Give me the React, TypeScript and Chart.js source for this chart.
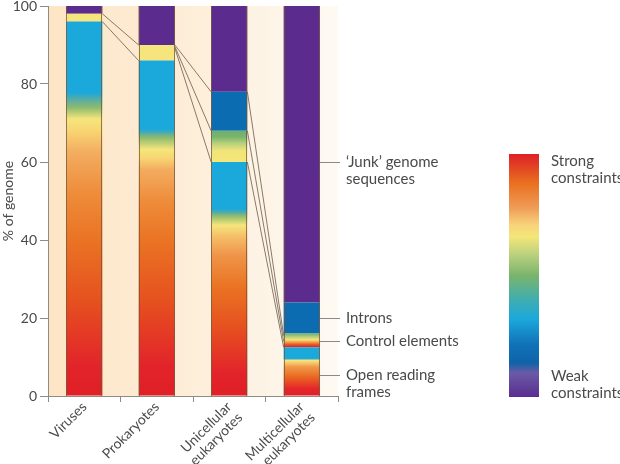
import React, { useEffect, useRef } from "react";
import { Chart, registerables } from "chart.js";

Chart.register(...registerables);

// ---------- data ----------
const categories = [["Viruses"], ["Prokaryotes"], ["Unicellular", "eukaryotes"], ["Multicellular", "eukaryotes"]];
const yTickValues = [0, 20, 40, 60, 80, 100];
const openReadingFrames = [96, 86, 60, 12.5];
const controlElements = [2, 4, 8, 3.5];
const introns = [0, 0, 10, 8];
const junkSequences = [2, 10, 22, 76];
// connector lines between neighbouring bars (value on left bar -> value on right bar)
const connectorFrom = [[98, 96], [90, 89.6, 89.2], [78, 68, 60]];
const connectorTo = [[90, 86], [78, 68, 60], [15.5, 14, 12.5]];
const annotationLabels = [["Open reading", "frames"], ["Control elements"], ["Introns"], ["\u2018Junk\u2019 genome", "sequences"]];
const annotationValues = [5.5, 14, 20, 60];
const legendTop = ["Strong", "constraints"];
const legendBottom = ["Weak", "constraints"];

// ---------- styles ----------
const FONT = "Lato, 'Open Sans', sans-serif";
const TEXT = "#4a4a4a";
const AXIS = "#8f8a85";
const RED = "#e01f27";
const CYAN = "#1ba9dc";
const YELLOW = "#f6e47c";
const BLUE = "#0b6cb2";
const PURPLE = "#5b2b8e";
type Stops = [number, string][];

const orfStops: Stops[] = [
  [[0, RED], [0.08, "#e2242a"], [0.26, "#e6521f"], [0.42, "#ea7424"], [0.54, "#ee8c3a"], [0.65, "#f3ac60"], [0.71, "#f8d672"], [0.74, "#f5e57c"], [0.77, "#8fbb6e"], [0.795, "#4fabab"], [0.81, CYAN], [1, CYAN]],
  [[0, RED], [0.09, "#e2242a"], [0.29, "#e6521f"], [0.465, "#ea7424"], [0.58, "#ee8c3a"], [0.675, "#f3ac60"], [0.71, "#f8d672"], [0.735, "#f5e57c"], [0.77, "#8fbb6e"], [0.785, "#4fabab"], [0.795, CYAN], [1, CYAN]],
  [[0, RED], [0.1, "#e2242a"], [0.3, "#e6521f"], [0.47, "#ea7424"], [0.6, "#ef9448"], [0.68, "#f5bd68"], [0.73, "#f5e57c"], [0.77, "#8fbb6e"], [0.785, "#4fabab"], [0.8, CYAN], [1, CYAN]],
  [[0, RED], [0.15, "#e3262a"], [0.4, "#ea6a22"], [0.6, "#f09a4a"], [0.69, "#f6cf70"], [0.73, "#f5e57c"], [0.77, CYAN], [1, CYAN]],
];
const controlStops: Stops[] = [
  [[0, YELLOW], [1, YELLOW]],
  [[0, YELLOW], [1, YELLOW]],
  [[0, "#f5e67c"], [0.35, "#f3e47a"], [0.6, "#b6d07d"], [0.8, "#7ab56b"], [1, "#6cae74"]],
  [[0, "#d9202a"], [0.2, "#e8562a"], [0.4, "#f4a84a"], [0.55, "#f6e27a"], [0.75, "#b7d07e"], [1, "#6fb06e"]],
];
const intronStops: Stops[] = [0, 1, 2, 3].map(() => [[0, BLUE], [1, BLUE]] as Stops);
const junkStops: Stops[] = [0, 1, 2, 3].map(() => [[0, PURPLE], [1, PURPLE]] as Stops);

const seriesValues = [openReadingFrames, controlElements, introns, junkSequences];
const seriesNames = ["Open reading frames", "Control elements", "Introns", "Junk genome sequences"];
const seriesStops = [orfStops, controlStops, intronStops, junkStops];

const legendStops: Stops = [
  [0, "#dd2027"], [0.12, "#e9701f"], [0.22, "#ef9b55"], [0.29, "#f8d27a"], [0.34, "#f4e678"],
  [0.42, "#b6cf7e"], [0.5, "#7ab46b"], [0.6, "#3fadb0"], [0.68, "#1ba8dc"], [0.78, "#1173b8"],
  [0.86, "#0f63a8"], [0.9, "#6a5aa6"], [1, "#5a2d90"],
];

function segmentFill(ctx: any) {
  const { chart, dataIndex, datasetIndex } = ctx;
  const stops = seriesStops[datasetIndex] && seriesStops[datasetIndex][dataIndex];
  if (!stops) return PURPLE;
  const y = chart.scales && chart.scales.y;
  if (!y || ctx.type !== "data") return stops[0][1];
  let base = 0;
  for (let d = 0; d < datasetIndex; d++) base += seriesValues[d][dataIndex];
  const top = base + seriesValues[datasetIndex][dataIndex];
  const y0 = y.getPixelForValue(base);
  const y1 = y.getPixelForValue(top);
  if (!isFinite(y0) || !isFinite(y1) || Math.abs(y0 - y1) < 0.5) return stops[0][1];
  const g = chart.ctx.createLinearGradient(0, y0, 0, y1);
  stops.forEach(([o, c]) => g.addColorStop(o, c));
  return g;
}

const decorPlugin = {
  id: "decor",
  beforeDraw(chart: any) {
    const { ctx, chartArea: a } = chart;
    if (!a || !isFinite(a.left)) return;
    const g = ctx.createLinearGradient(a.left, 0, a.right, 0);
    g.addColorStop(0, "#fde5c4");
    g.addColorStop(0.5, "#fdeed9");
    g.addColorStop(1, "#fefaf3");
    ctx.save();
    ctx.fillStyle = g;
    ctx.fillRect(a.left, a.top, a.right - a.left, a.bottom - a.top);
    ctx.restore();
  },
  afterDatasetsDraw(chart: any) {
    const { ctx, chartArea: a } = chart;
    const y = chart.scales.y;
    const bars = chart.getDatasetMeta(0).data;
    if (!bars || bars.length < 4) return;
    ctx.save();
    // bar outlines
    ctx.strokeStyle = "rgba(115,85,55,0.75)";
    ctx.lineWidth = 1;
    bars.forEach((el: any) => {
      const l = Math.round(el.x - el.width / 2) + 0.5;
      const r = Math.round(el.x + el.width / 2) - 0.5;
      ctx.beginPath();
      ctx.moveTo(l, y.getPixelForValue(100));
      ctx.lineTo(l, y.getPixelForValue(0));
      ctx.moveTo(r, y.getPixelForValue(100));
      ctx.lineTo(r, y.getPixelForValue(0));
      ctx.stroke();
    });
    // connectors
    ctx.strokeStyle = "#6b5a4a";
    ctx.lineWidth = 0.8;
    connectorFrom.forEach((froms, k) => {
      const xl = bars[k].x + bars[k].width / 2;
      const xr = bars[k + 1].x - bars[k + 1].width / 2;
      froms.forEach((v, j) => {
        ctx.beginPath();
        ctx.moveTo(xl, y.getPixelForValue(v));
        ctx.lineTo(xr, y.getPixelForValue(connectorTo[k][j]));
        ctx.stroke();
      });
    });
    // annotations on the right of the last bar
    const last = bars[bars.length - 1];
    const xs = last.x + last.width / 2;
    ctx.font = `15px ${FONT}`;
    ctx.textBaseline = "middle";
    ctx.textAlign = "left";
    annotationValues.forEach((v, i) => {
      const py = Math.round(y.getPixelForValue(v)) + 0.5;
      ctx.strokeStyle = "#8a8a8a";
      ctx.lineWidth = 1;
      ctx.beginPath();
      ctx.moveTo(xs, py);
      ctx.lineTo(a.right + 2, py);
      ctx.stroke();
      ctx.fillStyle = TEXT;
      annotationLabels[i].forEach((t, j) => ctx.fillText(t, a.right + 8, py + j * 17));
    });
    // colour-scale legend
    const lx = 509, lw = 30, lt = 154, lb = 397;
    const lg = ctx.createLinearGradient(0, lt, 0, lb);
    legendStops.forEach(([o, c]) => lg.addColorStop(o, c));
    ctx.fillStyle = lg;
    ctx.fillRect(lx, lt, lw, lb - lt);
    ctx.fillStyle = TEXT;
    legendTop.forEach((t, j) => ctx.fillText(t, lx + 42, 161 + j * 17));
    legendBottom.forEach((t, j) => ctx.fillText(t, lx + 42, 376 + j * 17));
    ctx.restore();
  },
};

export default function App() {
  const ref = useRef<HTMLCanvasElement | null>(null);
  useEffect(() => {
    if (!ref.current) return;
    const font = { family: FONT, size: 14 };
    const chart = new Chart(ref.current, {
      type: "bar",
      data: {
        labels: categories as any,
        datasets: seriesValues.map((vals, i) => ({
          label: seriesNames[i],
          data: vals,
          backgroundColor: segmentFill as any,
          borderWidth: 0,
          barPercentage: 0.5,
          categoryPercentage: 1,
        })),
      },
      options: {
        responsive: false,
        animation: false,
        devicePixelRatio: 1,
        layout: { padding: { left: 0, right: 282, top: 6, bottom: 0 } },
        plugins: { legend: { display: false }, tooltip: { enabled: false } },
        scales: {
          x: {
            stacked: true,
            grid: { display: true, drawOnChartArea: false, tickLength: 6, color: AXIS, offset: true },
            border: { display: true, color: AXIS },
            ticks: {
              font: { family: FONT, size: 14, lineHeight: 1.1 },
              color: TEXT,
              minRotation: 45,
              maxRotation: 45,
              autoSkip: false,
              padding: -3,
            },
            afterFit: (s: any) => {
              s.height = 68;
              s.paddingLeft = 0;
              s.paddingRight = 0;
            },
          },
          y: {
            stacked: true,
            min: 0,
            max: 100,
            afterBuildTicks: (s: any) => {
              s.ticks = yTickValues.map((v) => ({ value: v }));
            },
            grid: { display: true, drawOnChartArea: false, tickLength: 8, color: AXIS },
            border: { display: true, color: AXIS },
            ticks: { font, color: TEXT, padding: 3 },
            title: { display: true, text: "% of genome", font, color: TEXT, padding: 0 },
            afterFit: (s: any) => {
              s.width = 48;
              s.paddingTop = 0;
              s.paddingBottom = 0;
            },
          },
        },
      },
      plugins: [decorPlugin],
    });
    return () => chart.destroy();
  }, []);
  return (
    <div style={{ position: "fixed", left: 0, top: 0, width: 620, height: 464, background: "#fff" }}>
      <canvas ref={ref} width={620} height={464} style={{ width: 620, height: 464, display: "block" }} />
    </div>
  );
}
